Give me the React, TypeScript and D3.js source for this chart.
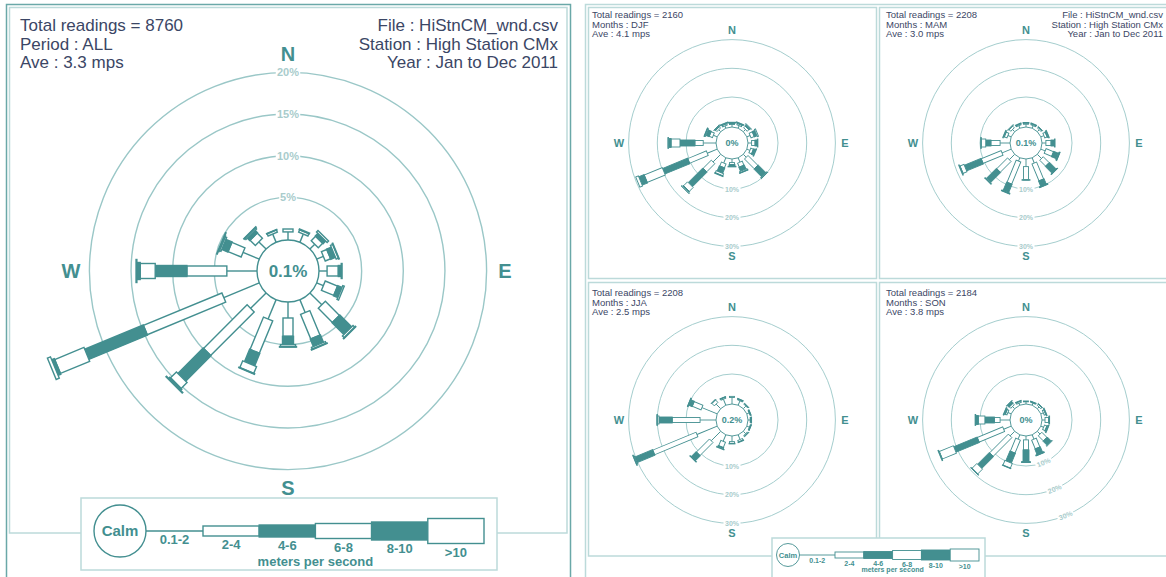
import React from 'react';
import * as d3 from 'd3';

const directions = ['N', 'NNE', 'NE', 'ENE', 'E', 'ESE', 'SE', 'SSE', 'S', 'SSW', 'SW', 'WSW', 'W', 'WNW', 'NW', 'NNW'];
const speedBins = ['0.1-2', '2-4', '4-6', '6-8', '8-10', '>10'];
const binFilled = [false, false, true, false, true, false];
const compassLabels = ['N', 'E', 'S', 'W'];

// percent of readings per direction per speed bin (rows follow `directions`)
const annualRose = [
  [0.85, 0.35, 0, 0, 0, 0],
  [0.95, 0.3, 0.1, 0, 0, 0],
  [0.7, 0.75, 0.45, 0.25, 0, 0],
  [0.75, 0.7, 0.6, 0.3, 0.05, 0],
  [0.85, 1.35, 0.35, 0.1, 0, 0],
  [0.75, 1.6, 0.55, 0.2, 0, 0],
  [1.9, 2.4, 2.0, 0.3, 0.05, 0],
  [1.55, 3.2, 0.95, 0.25, 0.05, 0],
  [1.8, 2.2, 1.0, 0.25, 0.05, 0],
  [2.4, 4.2, 1.6, 0.9, 0.05, 0],
  [2.5, 7.4, 4.3, 1.0, 0.2, 0.1],
  [4.5, 10.2, 7.6, 3.8, 0.35, 0.4],
  [3.5, 4.8, 3.8, 1.8, 0.4, 0.1],
  [2.0, 1.7, 0.8, 0.2, 0.1, 0.05],
  [1.1, 0.9, 0.4, 0.2, 0.05, 0],
  [0.95, 0.3, 0.05, 0, 0, 0],
];

const djfRose = [
  [0.4, 0.4, 0.3, 0.1, 0, 0],
  [0.5, 0.5, 0.3, 0.1, 0, 0],
  [0.6, 0.8, 0.6, 0.2, 0, 0],
  [0.8, 1.2, 1.0, 0.4, 0, 0],
  [0.8, 1.2, 0.8, 0.2, 0, 0],
  [0.7, 1.0, 0.8, 0.2, 0, 0],
  [1.0, 4.8, 3.7, 0.4, 0.1, 0],
  [1.2, 1.5, 1.5, 0.5, 0.1, 0],
  [0.8, 0.7, 0.6, 0.2, 0, 0],
  [1.5, 1.5, 2.0, 0.8, 0.2, 0],
  [3.3, 4.0, 7.2, 1.9, 0.4, 0.3],
  [3.3, 7.0, 9.4, 6.8, 2.0, 1.0],
  [4.0, 2.9, 5.2, 3.1, 1.0, 0.1],
  [1.0, 1.2, 1.2, 0.4, 0.1, 0],
  [0.5, 0.6, 0.4, 0.1, 0, 0],
  [0.4, 0.5, 0.3, 0.1, 0, 0],
];

const mamRose = [
  [0.5, 0.4, 0.2, 0, 0, 0],
  [0.5, 0.4, 0.2, 0, 0, 0],
  [0.5, 0.4, 0.2, 0, 0, 0],
  [0.7, 0.9, 0.5, 0.1, 0, 0],
  [0.9, 1.8, 1.2, 0.2, 0, 0],
  [1.2, 2.8, 1.8, 0.3, 0.1, 0],
  [1.6, 2.9, 3.3, 0.2, 0.05, 0],
  [1.5, 6.4, 2.0, 0.2, 0.05, 0],
  [2.2, 4.5, 0.2, 0.05, 0, 0],
  [0.8, 8.3, 3.2, 0.2, 0.1, 0],
  [2.2, 5.3, 4.9, 0.3, 0.1, 0],
  [3.0, 7.5, 6.3, 1.5, 0.2, 0.1],
  [3.0, 3.2, 1.8, 1.6, 0.1, 0.05],
  [0.8, 1.0, 0.3, 0.1, 0, 0],
  [0.6, 0.8, 0.2, 0.1, 0, 0],
  [0.5, 0.4, 0.2, 0, 0, 0],
];

const jjaRose = [
  [1.8, 0.4, 0, 0, 0, 0],
  [1.2, 0.4, 0.1, 0, 0, 0],
  [0.8, 0.3, 0.1, 0, 0, 0],
  [0.4, 0.3, 0.1, 0, 0, 0],
  [0.3, 0.3, 0.2, 0, 0, 0],
  [0.5, 0.3, 0.1, 0, 0, 0],
  [0.7, 0.4, 0.1, 0, 0, 0],
  [1.3, 0.6, 0.2, 0, 0, 0],
  [1.5, 0.7, 0.1, 0, 0, 0],
  [2.0, 2.0, 0.5, 0.2, 0, 0],
  [4.2, 6.4, 2.4, 0.2, 0.05, 0],
  [7.2, 16.3, 6.7, 0.3, 0.1, 0.05],
  [5.1, 9.7, 4.6, 0.6, 0.1, 0.05],
  [5.3, 3.3, 1.3, 0.2, 0.05, 0],
  [1.8, 1.2, 0.2, 0, 0, 0],
  [1.8, 0.5, 0.1, 0, 0, 0],
];

const sonRose = [
  [0.3, 0.3, 0, 0, 0, 0],
  [0.3, 0.3, 0.1, 0, 0, 0],
  [0.4, 0.5, 0.2, 0, 0, 0],
  [0.5, 0.6, 0.2, 0.05, 0, 0],
  [0.6, 1.2, 0.3, 0.1, 0, 0],
  [0.6, 0.9, 0.5, 0.1, 0, 0],
  [0.9, 2.5, 1.9, 0.3, 0, 0],
  [1.2, 3.3, 2.1, 0.2, 0.05, 0],
  [0.9, 3.5, 4.1, 0.2, 0.05, 0],
  [1.2, 4.9, 3.7, 1.8, 0.1, 0],
  [1.8, 9.2, 5.8, 2.4, 0.1, 0.05],
  [2.4, 9.6, 8.8, 5.3, 0.2, 0.1],
  [3.0, 2.0, 3.3, 2.3, 1.0, 0.1],
  [0.8, 0.6, 0.5, 0.1, 0, 0],
  [0.6, 0.7, 0.8, 0.2, 0, 0],
  [0.3, 0.5, 0.2, 0, 0, 0],
];

const mainRings = [5, 10, 15, 20];
const subRings = [10, 20, 30];

const TEAL = '#438f90';
const RING = '#9ac7c7';
const FRAME = '#bcdada';
const TEXT = '#3b4665';
const RING_TEXT = '#a9cccc';
const FONT = "'Liberation Sans', Arial, Helvetica, sans-serif";

type RoseProps = {
  cx: number; cy: number; data: number[][]; calmR: number; r0: number; k: number;
  rings: number[]; labelAngle: number; ringFont: number; widths: number[];
  calmText: string; calmFont: number; compassR: number; compassFont: number; sw: number;
};

function Rose(p: RoseProps) {
  const maxV = d3.max(p.rings) as number;
  const r = d3.scaleLinear().domain([0, maxV]).range([p.r0, p.r0 + maxV * p.k]);
  const ang = d3.scaleLinear().domain([0, directions.length]).range([0, 360]);
  const cang = d3.scaleLinear().domain([0, compassLabels.length]).range([0, 360]);
  const rad = (a: number) => (a * Math.PI) / 180;
  const la = p.labelAngle;
  const rot = la > 90 && la < 270 ? la - 180 : la;
  return (
    <g>
      {p.rings.map((v) => (
        <circle key={'c' + v} cx={p.cx} cy={p.cy} r={r(v)} fill="none" stroke={RING} strokeWidth={p.sw} />
      ))}
      {p.rings.map((v) => {
        const x = p.cx + r(v) * Math.sin(rad(la));
        const y = p.cy - r(v) * Math.cos(rad(la));
        const w = p.ringFont * (String(v).length + 1) * 0.62 + 4;
        const h = p.ringFont * 0.9;
        return (
          <g key={'l' + v} transform={`translate(${x},${y}) rotate(${rot})`}>
            <rect x={-w / 2} y={-h / 2} width={w} height={h} fill="#fff" />
            <text x={0} y={p.ringFont * 0.36} textAnchor="middle" fontSize={p.ringFont} fontWeight="bold" fill={RING_TEXT} fontFamily={FONT}>{v}%</text>
          </g>
        );
      })}
      {p.data.map((bins, i) => {
        let cum = 0;
        const segs = bins.map((v, j) => {
          const s = cum;
          cum += v;
          return { s, e: cum, v, j };
        });
        return (
          <g key={directions[i]} transform={`translate(${p.cx},${p.cy}) rotate(${ang(i)})`}>
            {segs.filter((s) => s.v > 0).map((s) =>
              s.j === 0 ? (
                <line key={s.j} x1={0} x2={0} y1={-p.calmR} y2={-r(s.e)} stroke={TEAL} strokeWidth={p.sw} />
              ) : (
                <rect key={s.j} x={-p.widths[s.j] / 2} y={-r(s.e)} width={p.widths[s.j]} height={Math.max(0.6, r(s.e) - r(s.s))}
                  fill={binFilled[s.j] ? TEAL : '#fff'} stroke={TEAL} strokeWidth={p.sw} />
              )
            )}
          </g>
        );
      })}
      <circle cx={p.cx} cy={p.cy} r={p.calmR} fill="#fff" stroke={TEAL} strokeWidth={p.sw} />
      <text x={p.cx} y={p.cy + p.calmFont * 0.36} textAnchor="middle" fontSize={p.calmFont} fontWeight="bold" fill={TEAL} fontFamily={FONT}>{p.calmText}</text>
      {compassLabels.map((c, i) => (
        <text key={c} x={p.cx + p.compassR * Math.sin(rad(cang(i)))} y={p.cy - p.compassR * Math.cos(rad(cang(i))) + p.compassFont * 0.36}
          textAnchor="middle" fontSize={p.compassFont} fontWeight="bold" fill={TEAL} fontFamily={FONT}>{c}</text>
      ))}
    </g>
  );
}

type LegendProps = {
  fx: number; fy: number; fw: number; fh: number; ccx: number; cy: number; calmR: number;
  boxStart: number; boxEnd: number; heights: number[]; font: number; calmFont: number;
  labelGap: number; titleY: number; sw: number;
};

function Legend(p: LegendProps) {
  const xs = d3.scaleLinear().domain([0, speedBins.length - 1]).range([p.boxStart, p.boxEnd]);
  const lineStart = p.ccx + p.calmR;
  return (
    <g fontFamily={FONT} fontWeight="bold" fill={TEAL}>
      <rect x={p.fx} y={p.fy} width={p.fw} height={p.fh} fill="#fff" stroke={FRAME} strokeWidth={1.5} />
      <circle cx={p.ccx} cy={p.cy} r={p.calmR} fill="#fff" stroke={TEAL} strokeWidth={p.sw} />
      <text x={p.ccx} y={p.cy + p.calmFont * 0.36} textAnchor="middle" fontSize={p.calmFont}>Calm</text>
      <line x1={lineStart} x2={p.boxStart} y1={p.cy} y2={p.cy} stroke={TEAL} strokeWidth={p.sw} />
      <text x={(lineStart + p.boxStart) / 2} y={p.cy + p.labelGap} textAnchor="middle" fontSize={p.font}>{speedBins[0]}</text>
      {speedBins.slice(1).map((b, i) => {
        const h = p.heights[i];
        const x0 = xs(i);
        const x1 = xs(i + 1);
        return (
          <g key={b}>
            <rect x={x0} y={p.cy - h / 2} width={x1 - x0} height={h} fill={binFilled[i + 1] ? TEAL : '#fff'} stroke={TEAL} strokeWidth={p.sw} />
            <text x={(x0 + x1) / 2} y={p.cy + h / 2 + p.labelGap} textAnchor="middle" fontSize={p.font}>{b}</text>
          </g>
        );
      })}
      <text x={(xs(1) + xs(3)) / 2} y={p.titleY} textAnchor="middle" fontSize={p.font}>meters per second</text>
    </g>
  );
}

function HeaderLeft({ x, y, lh, fs, lines }: { x: number; y: number; lh: number; fs: number; lines: string[] }) {
  return (
    <g fontFamily={FONT} fontSize={fs} fill={TEXT}>
      {lines.map((t, i) => (
        <text key={i} x={x} y={y + i * lh}>{t}</text>
      ))}
    </g>
  );
}

function HeaderRight({ x, y, lh, fs, lines }: { x: number; y: number; lh: number; fs: number; lines: string[] }) {
  return (
    <g fontFamily={FONT} fontSize={fs} fill={TEXT} textAnchor="end">
      {lines.map((t, i) => (
        <text key={i} x={x} y={y + i * lh}>{t}</text>
      ))}
    </g>
  );
}

const fileLines = ['File : HiStnCM_wnd.csv', 'Station : High Station CMx', 'Year : Jan to Dec 2011'];

export default function App() {
  const mainW = [0, 10, 11, 15, 17, 23];
  const subW = [0, 5, 6, 8, 9, 11];
  const sub = { calmR: 16, r0: 17.3, k: 2.87, rings: subRings, ringFont: 7, widths: subW, calmFont: 9, compassR: 113, compassFont: 11, sw: 0.9 };
  return (
    <svg width={1166} height={577} style={{ position: 'absolute', left: 0, top: 0, background: '#fff' }}>
      {/* left panel frames */}
      <rect x={6.5} y={4.5} width={564} height={600} fill="none" stroke="#6aa8a8" strokeWidth={1.5} />
      <rect x={9.5} y={7.5} width={557.5} height={525.5} fill="none" stroke={FRAME} strokeWidth={1.5} />
      <HeaderLeft x={20} y={31} lh={18.7} fs={17} lines={['Total readings = 8760', 'Period : ALL', 'Ave : 3.3 mps']} />
      <HeaderRight x={558} y={31} lh={18.7} fs={17} lines={fileLines} />
      <Rose cx={288} cy={271} data={annualRose} calmR={31} r0={32} k={8.33} rings={mainRings} labelAngle={0}
        ringFont={11} widths={mainW} calmText="0.1%" calmFont={17} compassR={217} compassFont={20} sw={1.4} />
      <Legend fx={81} fy={498} fw={416} fh={72} ccx={120} cy={531} calmR={26} boxStart={203} boxEnd={484}
        heights={[10, 12, 15, 18, 25]} font={13} calmFont={15} labelGap={13} titleY={566} sw={1.4} />

      {/* right panel frames */}
      <rect x={585.5} y={4.5} width={700} height={600} fill="none" stroke={FRAME} strokeWidth={1.5} />
      <rect x={588.5} y={7.5} width={288} height={271} fill="none" stroke={FRAME} strokeWidth={1.5} />
      <rect x={879.5} y={7.5} width={300} height={271} fill="none" stroke={FRAME} strokeWidth={1.5} />
      <rect x={588.5} y={282.5} width={288} height={273.5} fill="none" stroke={FRAME} strokeWidth={1.5} />
      <rect x={879.5} y={282.5} width={300} height={273.5} fill="none" stroke={FRAME} strokeWidth={1.5} />

      <HeaderLeft x={592} y={18} lh={9.5} fs={9.5} lines={['Total readings = 2160', 'Months : DJF', 'Ave : 4.1 mps']} />
      <HeaderLeft x={886} y={18} lh={9.5} fs={9.5} lines={['Total readings = 2208', 'Months : MAM', 'Ave : 3.0 mps']} />
      <HeaderRight x={1163} y={18} lh={9.5} fs={9.5} lines={fileLines} />
      <HeaderLeft x={592} y={296} lh={9.5} fs={9.5} lines={['Total readings = 2208', 'Months : JJA', 'Ave : 2.5 mps']} />
      <HeaderLeft x={886} y={296} lh={9.5} fs={9.5} lines={['Total readings = 2184', 'Months : SON', 'Ave : 3.8 mps']} />

      <Rose cx={732} cy={143} data={djfRose} labelAngle={180} calmText="0%" {...sub} />
      <Rose cx={1026} cy={143} data={mamRose} labelAngle={180} calmText="0.1%" {...sub} />
      <Rose cx={732} cy={420} data={jjaRose} labelAngle={180} calmText="0.2%" {...sub} />
      <Rose cx={1026} cy={420} data={sonRose} labelAngle={157.5} calmText="0%" {...sub} />

      <Legend fx={772} fy={538} fw={213} fh={45} ccx={788} cy={555} calmR={11.5} boxStart={835} boxEnd={979}
        heights={[6, 7, 9, 10, 12]} font={7} calmFont={7.5} labelGap={7.5} titleY={572} sw={0.9} />
    </svg>
  );
}
